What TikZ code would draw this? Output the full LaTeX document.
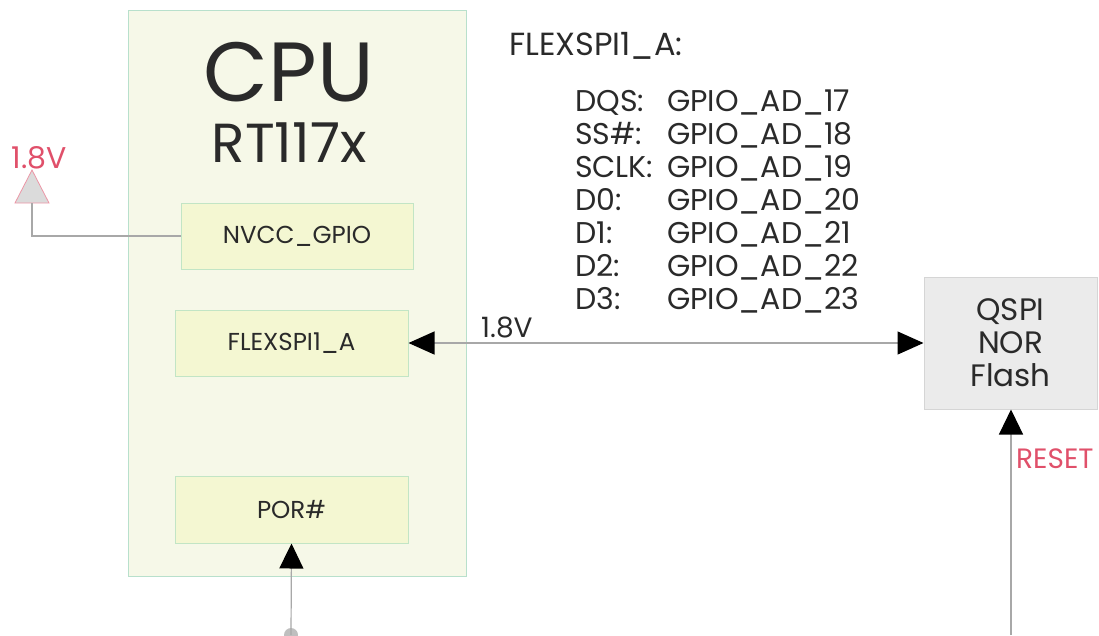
\documentclass[tikz,border=0pt]{standalone}
\usepackage{fontspec}
\setmainfont{Poppins}
\usetikzlibrary{arrows.meta}
\definecolor{cpufill}{HTML}{F6F8E8}
\definecolor{cpuedge}{HTML}{B8E0CC}
\definecolor{subfill}{HTML}{F4F7D2}
\definecolor{subedge}{HTML}{C2E5C5}
\definecolor{flashfill}{HTML}{EBEBEB}
\definecolor{flashedge}{HTML}{D5D5D5}
\definecolor{wire}{HTML}{A8A8A8}
\definecolor{redtxt}{HTML}{E0506A}
\definecolor{txt}{HTML}{2A2A2A}
\tikzset{
  cpubox/.style={draw=cpuedge, fill=cpufill, line width=1pt},
  subbox/.style={draw=subedge, fill=subfill, line width=1pt, text=txt, font=\fontsize{24.5}{26}\selectfont},
  flashbox/.style={draw=flashedge, fill=flashfill, line width=1pt, text=txt, font=\fontsize{31}{33}\selectfont, align=center},
  wireline/.style={draw=wire, line width=1.2pt},
  lbl/.style={text=txt, inner sep=0pt, font=\fontsize{30}{33}\selectfont},
}
\begin{document}
\begin{tikzpicture}[x=1pt,y=-1pt]
\useasboundingbox (0,0) rectangle (1099,635);
% CPU
\draw[cpubox] (128,10) rectangle (466,576);
\node[text=txt, inner sep=0pt, font=\fontsize{84}{84}\selectfont] (cpu) at (289,72) {CPU};
\node[text=txt, inner sep=0pt, font=\fontsize{55}{55}\selectfont] (rt) at (289,143) {RT117x};
% sub boxes
\node[subbox, minimum width=232pt, minimum height=66pt] (nvcc) at (297,236) {NVCC\_GPIO};
\node[subbox, minimum width=233pt, minimum height=66pt] (flex) at (291.5,343) {FLEXSPI1\_A};
\node[subbox, minimum width=233pt, minimum height=67pt] (por) at (291.5,509.5) {POR\#};
% flash
\node[flashbox, minimum width=173pt, minimum height=132pt] (flash) at (1010.5,343) {QSPI\\NOR\\Flash};
% 1.8V supply
\draw[draw=redtxt!60, fill=black!14, line width=0.8pt] (32,170) -- (49,203) -- (15,203) -- cycle;
\coordinate (tribase) at (32,203);
\node[text=redtxt, inner sep=0pt, font=\fontsize{30}{30}\selectfont] (v18) at (39,158) {1.8V};
\draw[wireline] (tribase) |- (nvcc.west);
% bus
\draw[wireline, {Triangle[length=26pt,width=23pt,fill=black,color=black]}-{Triangle[length=26pt,width=23pt,fill=black,color=black]}] (flex.east) -- (flash.west);
\node[text=txt, inner sep=0pt, font=\fontsize{28}{28}\selectfont, anchor=base west] (busv) at (481,337) {1.8V};
% POR
\coordinate (pordot) at (291,635);
\fill[black!25] (pordot) circle (7);
\draw[wireline, -{Triangle[length=25pt,width=24pt,fill=black,color=black]}] (pordot) -- (por.south);
% RESET
\coordinate (rstend) at (1011,635);
\draw[wireline, -{Triangle[length=25pt,width=24pt,fill=black,color=black]}] (rstend) -- (flash.south -| rstend);
\node[text=redtxt, inner sep=0pt, font=\fontsize{28}{28}\selectfont, anchor=base west] (rst) at (1016,468) {RESET};
% pin table
\node[lbl, anchor=base west, font=\fontsize{32}{32}\selectfont] (hdr) at (509,55) {FLEXSPI1\_A:};
\node[lbl, anchor=base west] (l1) at (575,111) {DQS:};
\node[lbl, anchor=base west] (g1) at (667,111) {GPIO\_AD\_17};
\node[lbl, anchor=base west] (l2) at (575,144) {SS\#:};
\node[lbl, anchor=base west] (g2) at (667,144) {GPIO\_AD\_18};
\node[lbl, anchor=base west] (l3) at (575,177) {SCLK:};
\node[lbl, anchor=base west] (g3) at (667,177) {GPIO\_AD\_19};
\node[lbl, anchor=base west] (l4) at (575,210) {D0:};
\node[lbl, anchor=base west] (g4) at (667,210) {GPIO\_AD\_20};
\node[lbl, anchor=base west] (l5) at (575,243) {D1:};
\node[lbl, anchor=base west] (g5) at (667,243) {GPIO\_AD\_21};
\node[lbl, anchor=base west] (l6) at (575,276) {D2:};
\node[lbl, anchor=base west] (g6) at (667,276) {GPIO\_AD\_22};
\node[lbl, anchor=base west] (l7) at (575,309) {D3:};
\node[lbl, anchor=base west] (g7) at (667,309) {GPIO\_AD\_23};
\end{tikzpicture}
\end{document}
